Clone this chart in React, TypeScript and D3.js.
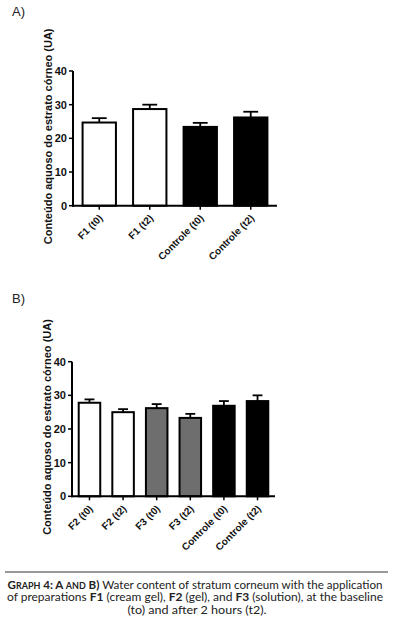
import React from "react";
import * as d3 from "d3";

const catsA = ["F1 (t0)", "F1 (t2)", "Controle (t0)", "Controle (t2)"];
const meansA = [24.7, 28.7, 23.4, 26.2];
const errA = [1.3, 1.3, 1.2, 1.7];
const fillsA = ["#ffffff", "#ffffff", "#000000", "#000000"];

const catsB = ["F2 (t0)", "F2 (t2)", "F3 (t0)", "F3 (t2)", "Controle (t0)", "Controle (t2)"];
const meansB = [27.8, 25.0, 26.2, 23.3, 26.9, 28.3];
const errB = [1.0, 0.9, 1.2, 1.2, 1.4, 1.7];
const fillsB = ["#ffffff", "#ffffff", "#6e6e6e", "#6e6e6e", "#000000", "#000000"];

const yTicks = [0, 10, 20, 30, 40];
const yLabel = "Conteúdo aquoso do estrato córneo (UA)";

const FONT = "'Liberation Sans', Arial, sans-serif";

function Panel({ cats, means, errs, fills, top, bottom, left, right, label, labelY }: any) {
  const x = d3.scaleBand<string>().domain(cats).range([left, right]).paddingInner(0.3).paddingOuter(0.17);
  const y = d3.scaleLinear().domain([0, 40]).range([bottom, top]);
  const bw = x.bandwidth();
  const cap = bw * 0.42;
  return (
    <g>
      <text x={12} y={labelY} fontFamily={FONT} fontSize={13} fill="#222">{label}</text>
      <text
        transform={`translate(${left - 21},${(top + bottom) / 2 - 2}) rotate(-90)`}
        textAnchor="middle"
        fontFamily={FONT}
        fontWeight="bold"
        fontSize={11}
        fill="#111"
      >
        {yLabel}
      </text>
      {cats.map((c: string, i: number) => {
        const cx = x(c)! + bw / 2;
        return (
          <g key={c}>
            <line x1={cx} x2={cx} y1={y(means[i])} y2={y(means[i] + errs[i])} stroke="#000" strokeWidth={1.8} />
            <line x1={cx - cap / 2} x2={cx + cap / 2} y1={y(means[i] + errs[i])} y2={y(means[i] + errs[i])} stroke="#000" strokeWidth={1.8} />
            <rect x={x(c)! + 1} y={y(means[i])} width={bw - 2} height={y(0) - y(means[i])} fill={fills[i]} stroke="#000" strokeWidth={2} />
            <line x1={cx} x2={cx} y1={bottom} y2={bottom + 4} stroke="#000" strokeWidth={1.5} />
            <text
              transform={`translate(${cx + 4},${bottom + 13}) rotate(-45)`}
              textAnchor="end"
              fontFamily={FONT}
              fontWeight="bold"
              fontSize={10}
              fill="#111"
            >
              {c}
            </text>
          </g>
        );
      })}
      <line x1={left} x2={left} y1={top} y2={bottom + 1} stroke="#000" strokeWidth={2} />
      <line x1={left - 1} x2={right} y1={bottom} y2={bottom} stroke="#000" strokeWidth={2} />
      {yTicks.map((t) => (
        <g key={t}>
          <line x1={left - 4} x2={left} y1={y(t)} y2={y(t)} stroke="#000" strokeWidth={1.5} />
          <text x={left - 6} y={y(t)} dy="0.35em" textAnchor="end" fontFamily={FONT} fontWeight="bold" fontSize={11} fill="#111">
            {t}
          </text>
        </g>
      ))}
    </g>
  );
}

export default function App() {
  const capFont = "Lato, 'Open Sans', sans-serif";
  return (
    <svg width={394} height={631} style={{ position: "absolute", left: 0, top: 0, background: "#fff" }}>
      <rect width={394} height={631} fill="#fff" />
      <Panel cats={catsA} means={meansA} errs={errA} fills={fillsA} top={71} bottom={205.7} left={73} right={277} label="A)" labelY={16} />
      <Panel cats={catsB} means={meansB} errs={errB} fills={fillsB} top={361.7} bottom={496.3} left={72} right={275} label="B)" labelY={303} />
      <line x1={5} x2={388} y1={572} y2={572} stroke="#333" strokeWidth={1} />
      <g fontFamily={capFont} fontSize={11} fill="#222">
        <text x={195} y={589} textAnchor="middle" textLength={375} lengthAdjust="spacingAndGlyphs">
          <tspan fontWeight="bold">G</tspan>
          <tspan fontWeight="bold" fontSize={8.5}>RAPH</tspan>
          <tspan fontWeight="bold"> 4: A </tspan>
          <tspan fontWeight="bold" fontSize={8.5}>AND</tspan>
          <tspan fontWeight="bold"> B)</tspan>
          <tspan> Water content of stratum corneum with the application</tspan>
        </text>
        <text x={195} y={601} textAnchor="middle" textLength={376} lengthAdjust="spacingAndGlyphs">
          <tspan>of preparations </tspan>
          <tspan fontWeight="bold">F1</tspan>
          <tspan> (cream gel), </tspan>
          <tspan fontWeight="bold">F2</tspan>
          <tspan> (gel), and </tspan>
          <tspan fontWeight="bold">F3</tspan>
          <tspan> (solution), at the baseline</tspan>
        </text>
        <text x={197} y={614} textAnchor="middle" textLength={139} lengthAdjust="spacingAndGlyphs">
          (to) and after 2 hours (t2).
        </text>
      </g>
    </svg>
  );
}
